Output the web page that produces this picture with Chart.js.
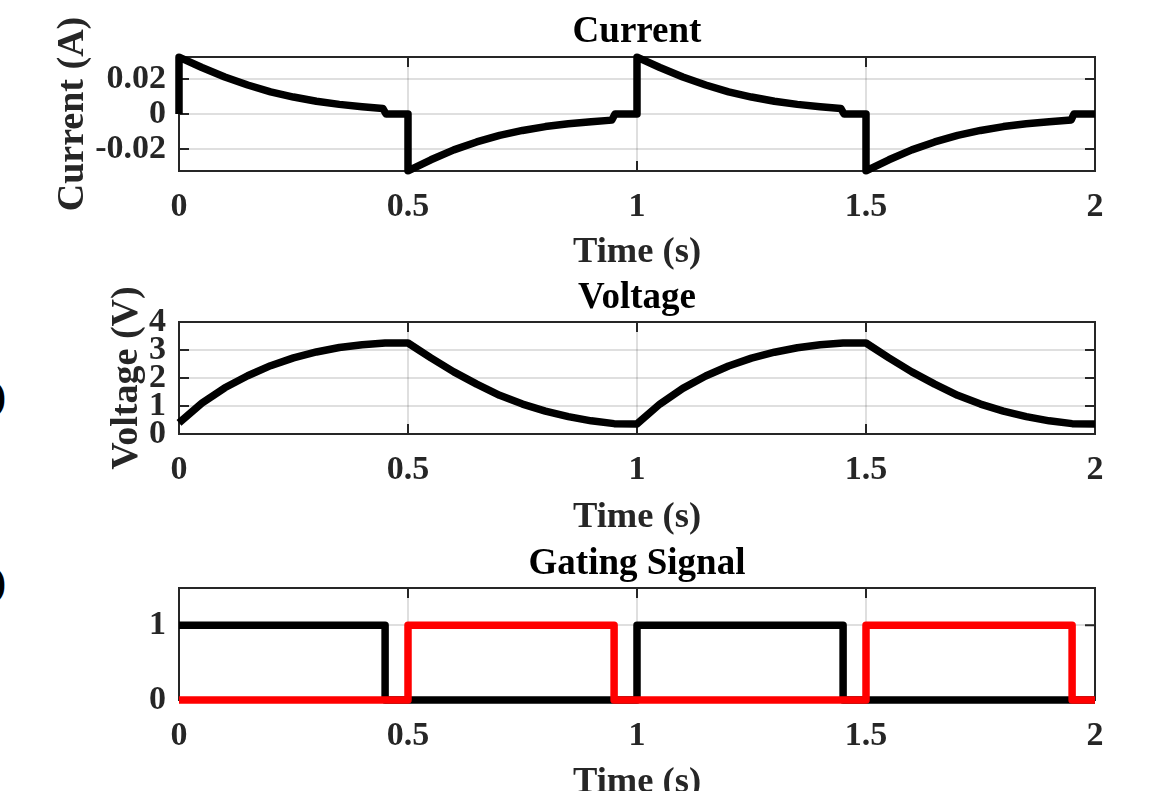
<!DOCTYPE html>
<html lang="en">
<head>
  <meta charset="UTF-8" />
  <title>Current, Voltage and Gating Signal</title>
  <script src="https://cdn.jsdelivr.net/npm/chart.js"></script>
  <style>
    body {
      margin: 0;
      width: 1153px;
      height: 791px;
      overflow: hidden;
      background: #fff;
    }
    .panel {
      position: absolute;
      left: 0;
    }
    .tag {
      position: absolute;
      font: bold 40px "Liberation Serif", serif;
      color: #000;
      text-align: right;
    }
  </style>
</head>
<body>

<div class="tag" style="right:1147px; top:372px">(b)</div>
<div class="tag" style="right:1147px; top:558px">(c)</div>

<canvas id="currentChart" class="panel" width="1153" height="280" style="top:0px"></canvas>
<canvas id="voltageChart" class="panel" width="1153" height="280" style="top:265px"></canvas>
<canvas id="gateChart" class="panel" width="1153" height="280" style="top:531px"></canvas>

<script>
  // Time axis (s)
  const xTicks = [0, 0.5, 1, 1.5, 2];

  // Current (A)
  const currentTime = [0, 0, 0.05, 0.10, 0.15, 0.20, 0.25, 0.30, 0.35, 0.40, 0.445, 0.452, 0.50,
    0.50, 0.55, 0.60, 0.65, 0.70, 0.75, 0.80, 0.85, 0.90, 0.945, 0.952, 1.00,
    1.00, 1.05, 1.10, 1.15, 1.20, 1.25, 1.30, 1.35, 1.40, 1.445, 1.452, 1.50,
    1.50, 1.55, 1.60, 1.65, 1.70, 1.75, 1.80, 1.85, 1.90, 1.948, 1.954, 2.00];
  const currentValue = [0, 0.0325, 0.0266, 0.0212, 0.0166, 0.0127, 0.0097, 0.0073, 0.0055, 0.0042, 0.0032, 0, 0,
    -0.0325, -0.0262, -0.0205, -0.0160, -0.0122, -0.0094, -0.0072, -0.0056, -0.0044, -0.0035, 0, 0,
    0.0325, 0.0266, 0.0212, 0.0166, 0.0127, 0.0097, 0.0073, 0.0055, 0.0042, 0.0032, 0, 0,
    -0.0325, -0.0262, -0.0205, -0.0160, -0.0122, -0.0094, -0.0072, -0.0056, -0.0044, -0.0034, 0, 0];
  const currentTicks = [-0.02, 0, 0.02];

  // Voltage (V)
  const voltageTime = [0, 0.05, 0.10, 0.15, 0.20, 0.25, 0.30, 0.35, 0.40, 0.45, 0.50,
    0.55, 0.60, 0.65, 0.70, 0.75, 0.80, 0.85, 0.90, 0.95, 1.00,
    1.05, 1.10, 1.15, 1.20, 1.25, 1.30, 1.35, 1.40, 1.45, 1.50,
    1.55, 1.60, 1.65, 1.70, 1.75, 1.80, 1.85, 1.90, 1.95, 2.00];
  const voltageValue = [0.40, 1.10, 1.65, 2.08, 2.44, 2.72, 2.93, 3.09, 3.19, 3.25, 3.25,
    2.72, 2.22, 1.78, 1.38, 1.07, 0.82, 0.62, 0.47, 0.37, 0.36,
    1.07, 1.63, 2.07, 2.43, 2.71, 2.92, 3.08, 3.19, 3.25, 3.25,
    2.72, 2.22, 1.78, 1.38, 1.07, 0.82, 0.62, 0.47, 0.37, 0.36];
  const voltageTicks = [0, 1, 2, 3, 4];

  // Gating signals
  const gate1Time = [0, 0.45, 0.45, 1.00, 1.00, 1.45, 1.45, 2.00];
  const gate1Value = [1, 1, 0, 0, 1, 1, 0, 0];
  const gate2Time = [0, 0.50, 0.50, 0.95, 0.95, 1.50, 1.50, 1.95, 1.95, 2.00];
  const gate2Value = [0, 0, 1, 1, 0, 0, 1, 1, 0, 0];
  const gateTicks = [0, 1];

  const FONT = '"Liberation Serif", "Times New Roman", serif';
  const AXIS_GREY = '#262626';
  const TICK_LEN = 10;

  const toPoints = (xs, ys) => xs.map((x, i) => ({ x: x, y: ys[i] }));

  // MATLAB-like box with inward ticks on all four sides
  const boxPlugin = {
    id: 'matlabBox',
    beforeDatasetsDraw(chart) {
      const { ctx, chartArea: a, scales } = chart;
      ctx.save();
      ctx.strokeStyle = AXIS_GREY;
      ctx.lineWidth = 2;
      ctx.beginPath();
      scales.x.ticks.forEach(t => {
        const px = scales.x.getPixelForValue(t.value);
        ctx.moveTo(px, a.bottom); ctx.lineTo(px, a.bottom - TICK_LEN);
        ctx.moveTo(px, a.top); ctx.lineTo(px, a.top + TICK_LEN);
      });
      scales.y.ticks.forEach(t => {
        const py = scales.y.getPixelForValue(t.value);
        ctx.moveTo(a.left, py); ctx.lineTo(a.left + TICK_LEN, py);
        ctx.moveTo(a.right, py); ctx.lineTo(a.right - TICK_LEN, py);
      });
      ctx.stroke();
      ctx.strokeRect(a.left, a.top, a.right - a.left, a.bottom - a.top);
      ctx.restore();
    }
  };

  function makePanel(id, cfg) {
    return new Chart(document.getElementById(id), {
      type: 'line',
      data: { datasets: cfg.datasets },
      plugins: [boxPlugin],
      options: {
        responsive: false,
        animation: false,
        layout: { padding: { left: cfg.padLeft, right: 58, top: cfg.padTop, bottom: cfg.padBottom } },
        plugins: {
          legend: { display: false },
          tooltip: { enabled: false }
        },
        elements: {
          point: { radius: 0 },
          line: { borderWidth: 7.5, borderJoinStyle: 'round', borderCapStyle: 'butt', tension: 0 }
        },
        scales: {
          x: {
            type: 'linear',
            min: 0,
            max: 2,
            afterBuildTicks: s => { s.ticks = xTicks.map(v => ({ value: v })); },
            afterFit: s => { s.height = cfg.xHeight; },
            grid: { color: 'rgba(38,38,38,0.15)', lineWidth: 2, drawTicks: false },
            border: { display: false },
            ticks: {
              color: AXIS_GREY,
              padding: 16,
              maxRotation: 0,
              autoSkip: false,
              font: { family: FONT, size: 34, weight: 'bold' },
              callback: v => String(v)
            },
            title: {
              display: true,
              text: 'Time (s)',
              color: AXIS_GREY,
              padding: 0,
              font: { family: FONT, size: 36.5, weight: 'bold' }
            }
          },
          // top axis only carries the panel title, centred over the plot box
          top: {
            type: 'linear',
            position: 'top',
            afterFit: s => { s.height = cfg.topHeight; },
            grid: { display: false },
            border: { display: false },
            ticks: { display: false },
            title: {
              display: true,
              text: cfg.title,
              color: '#000',
              padding: 0,
              font: { family: FONT, size: 37, weight: 'bold' }
            }
          },
          y: {
            min: cfg.yMin,
            max: cfg.yMax,
            afterBuildTicks: s => { s.ticks = cfg.yTicks.map(v => ({ value: v })); },
            afterFit: s => { s.width = cfg.yWidth; },
            grid: { color: 'rgba(38,38,38,0.15)', lineWidth: 2, drawTicks: false },
            border: { display: false },
            ticks: {
              color: AXIS_GREY,
              padding: 13,
              autoSkip: false,
              font: { family: FONT, size: 34, weight: 'bold' },
              callback: v => String(v)
            },
            title: {
              display: !!cfg.yTitle,
              text: cfg.yTitle || '',
              color: AXIS_GREY,
              padding: 0,
              font: { family: FONT, size: 38, weight: 'bold' }
            }
          }
        }
      }
    });
  }

  makePanel('currentChart', {
    title: 'Current',
    yTitle: 'Current (A)',
    yMin: -0.0326, yMax: 0.0326, yTicks: currentTicks,
    padLeft: 50.2, yWidth: 128.8,
    padTop: 9.8, topHeight: 47.2,
    xHeight: 103.9, padBottom: 5.1,
    datasets: [{
      data: toPoints(currentTime, currentValue),
      borderColor: '#000',
      clip: false
    }]
  });

  makePanel('voltageChart', {
    title: 'Voltage',
    yTitle: 'Voltage (V)',
    yMin: 0, yMax: 4, yTicks: voltageTicks,
    padLeft: 104.2, yWidth: 74.8,
    padTop: 10.8, topHeight: 46.2,
    xHeight: 105.9, padBottom: 5.1,
    datasets: [{
      data: toPoints(voltageTime, voltageValue),
      borderColor: '#000',
      clip: false
    }]
  });

  makePanel('gateChart', {
    title: 'Gating Signal',
    yMin: 0, yMax: 1.5, yTicks: gateTicks,
    padLeft: 119, yWidth: 60,
    padTop: 10.8, topHeight: 46.2,
    xHeight: 104.9, padBottom: 6.1,
    datasets: [{
      data: toPoints(gate2Time, gate2Value),
      borderColor: '#ff0000',
      order: 1,
      clip: false
    }, {
      data: toPoints(gate1Time, gate1Value),
      borderColor: '#000',
      order: 2,
      clip: false
    }]
  });
</script>

</body>
</html>
